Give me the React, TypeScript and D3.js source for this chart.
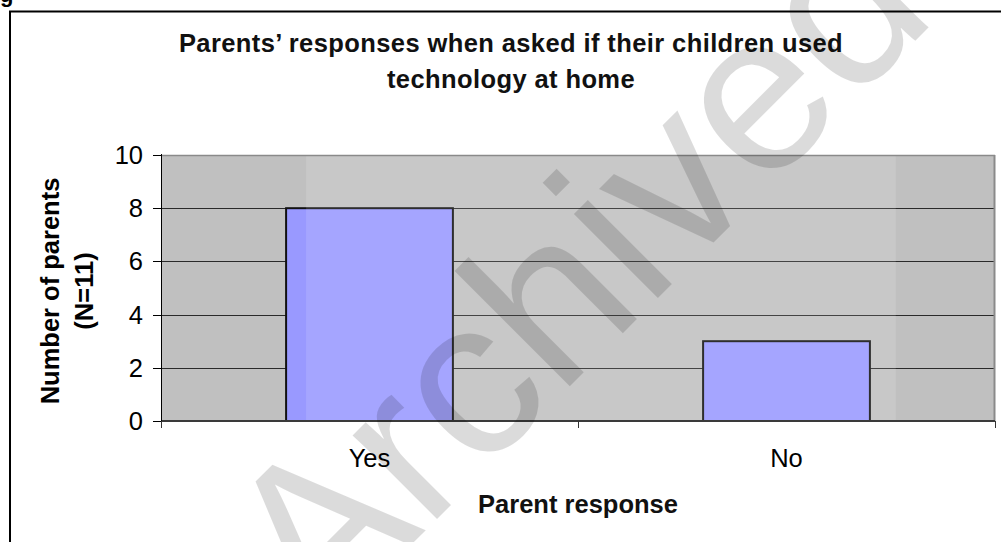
import React from 'react';
import * as d3 from 'd3';

const categories: string[] = ['Yes', 'No'];
const values: number[] = [8, 3];
const yTickValues: number[] = [0, 2, 4, 6, 8, 10];
const titleLines: string[] = ['Parents’ responses when asked if their children used', 'technology at home'];
const yTitleLines: string[] = ['Number of parents', '(N=11)'];
const xTitle = 'Parent response';
const watermark = 'Archived';

export default function App() {
  const W = 1001, H = 542;
  const left = 161, right = 995, top = 155, bottom = 421;
  const font = '"Liberation Sans", Arial, Helvetica, sans-serif';
  const fs = 25.5;

  const x = d3.scaleBand<string>().domain(categories).range([left, right]).paddingInner(0.6).paddingOuter(0.3);
  const xCat = d3.scaleBand<string>().domain(categories).range([left, right]).padding(0);
  const y = d3.scaleLinear().domain([0, 10]).range([bottom, top]);
  const catTicks = [left, ...categories.map(c => (xCat(c) as number) + xCat.bandwidth())];
  const pw = right - left;
  const lightX0 = left + pw * 0.174;
  const lightX1 = left + pw * 0.881;

  return (
    <svg width={W} height={H} style={{ position: 'absolute', left: 0, top: 0, background: '#fff' }} fontFamily={font}>
      <rect x={0} y={0} width={W} height={H} fill="#fff" />
      {/* cropped caption letter */}
      <text x={0} y={2} fontSize={22} fontWeight="bold" fill="#000">g</text>
      {/* outer chart border */}
      <rect x={10} y={11.5} width={1010} height={560} fill="none" stroke="#000" strokeWidth={2} />

      {/* title */}
      {titleLines.map((t, i) => (
        <text key={i} x={511} y={52 + i * 36} textAnchor="middle" fontSize={fs} fontWeight="bold" fill="#111" letterSpacing={0.4}>{t}</text>
      ))}

      {/* plot background */}
      <rect x={left} y={top} width={pw} height={bottom - top} fill="#c0c0c0" />

      {/* gridlines */}
      {yTickValues.filter(v => v > 0 && v < 10).map(v => (
        <line key={v} x1={left} x2={right} y1={Math.round(y(v)) + 0.5} y2={Math.round(y(v)) + 0.5} stroke="#2a2a2a" strokeWidth={1} />
      ))}

      {/* bars */}
      {categories.map((c, i) => (
        <rect key={c} x={x(c)} y={y(values[i])} width={x.bandwidth()} height={bottom - y(values[i])}
          fill="#9999ff" stroke="#111" strokeWidth={2} />
      ))}

      {/* lighter gradient band */}
      <rect x={lightX0} y={top} width={lightX1 - lightX0} height={bottom - top} fill="#fff" fillOpacity={0.125} />

      {/* plot frame */}
      <line x1={left} x2={right} y1={top + 0.5} y2={top + 0.5} stroke="#8a8a8a" strokeWidth={1.5} />
      <line x1={right - 0.5} x2={right - 0.5} y1={top} y2={bottom} stroke="#8a8a8a" strokeWidth={2} />
      <line x1={left} x2={right} y1={bottom} y2={bottom} stroke="#3a3a3a" strokeWidth={2} />
      <line x1={left + 0.5} x2={left + 0.5} y1={top - 1} y2={bottom + 7} stroke="#000" strokeWidth={1} />

      {/* y ticks and labels */}
      {yTickValues.map(v => (
        <g key={v}>
          <line x1={left - 8} x2={left} y1={Math.round(y(v)) + 0.5} y2={Math.round(y(v)) + 0.5} stroke="#000" strokeWidth={1} />
          <text x={143} y={y(v) + 9} textAnchor="end" fontSize={fs} fill="#000">{v}</text>
        </g>
      ))}

      {/* x ticks and labels */}
      {catTicks.map((t, i) => (
        <line key={i} x1={Math.round(t) + 0.5} x2={Math.round(t) + 0.5} y1={bottom} y2={bottom + 7} stroke="#333" strokeWidth={1} />
      ))}
      {categories.map(c => (
        <text key={c} x={(xCat(c) as number) + xCat.bandwidth() / 2} y={467} textAnchor="middle" fontSize={fs} fill="#000">{c}</text>
      ))}

      {/* axis titles */}
      <text x={(left + right) / 2} y={513} textAnchor="middle" fontSize={fs} fontWeight="bold" fill="#111">{xTitle}</text>
      {yTitleLines.map((t, i) => (
        <text key={i} transform={`translate(${59 + i * 34},${(top + bottom) / 2 + 3}) rotate(-90)`} textAnchor="middle" fontSize={fs} fontWeight="bold" fill="#000">{t}</text>
      ))}

      {/* watermark */}
      <text transform="translate(320,636) rotate(-45)" fontSize={225} fill="#000" fillOpacity={0.14}>{watermark}</text>
    </svg>
  );
}
